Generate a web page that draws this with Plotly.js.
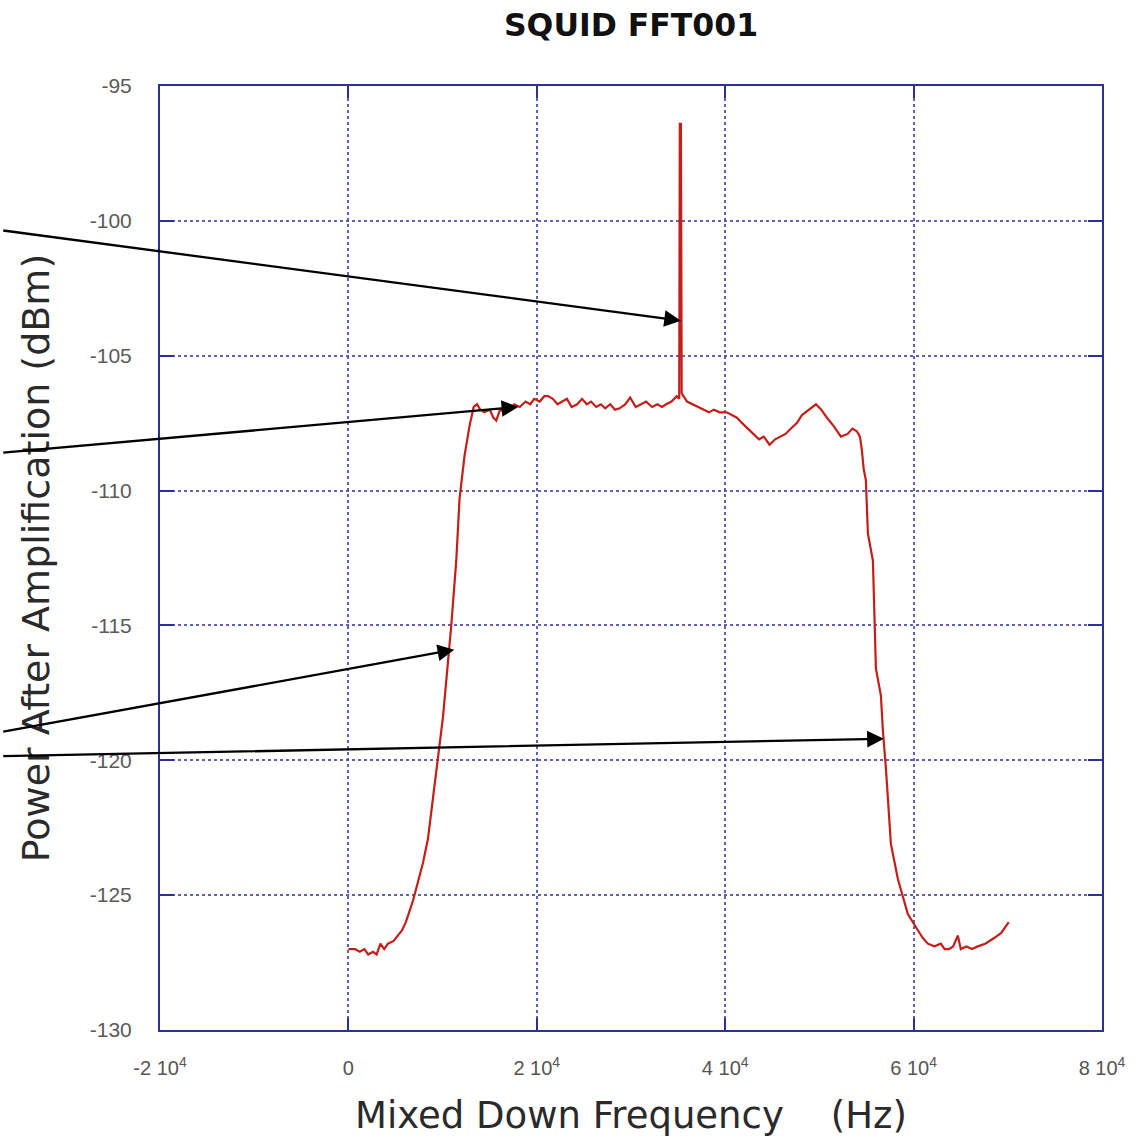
<!DOCTYPE html>
<html>
<head>
<meta charset="utf-8">
<script src="https://cdn.plot.ly/plotly-3.0.1.min.js"></script>
<style>html,body{margin:0;padding:0;background:#fff;}#chart{width:1138px;height:1141px;}</style>
</head>
<body>
<div id="chart"></div>
<script>
// Mixed down frequency (Hz)
const freq = [
  0, 700, 1200, 1700, 2100, 2600, 3000, 3400, 3800, 4200, 4800, 5300, 5700, 6100, 6500,
  6860, 7390, 7920, 8450, 8980, 9510, 10040, 10570, 10920, 11450, 11800, 12330, 12860, 13300,
  13650, 14000, 14420, 15000, 15400, 15700, 16100, 16600, 17070, 17600, 18200, 18800, 19300,
  19730, 20300, 20800, 21210, 21700, 22200, 22700, 23200, 23700, 24290, 24800, 25300, 25770,
  26300, 26800, 27260, 27800, 28300, 28800, 29400, 29910, 30500, 31070, 31600, 32240, 32800,
  33300, 33720, 34300, 34860, 35120, 35180, 35300, 35380, 35950, 36500, 37120, 37700, 38280,
  38800, 39410, 40160, 40700, 41250, 41800, 42420, 43000, 43590, 44100, 44710, 45300, 45810,
  46400, 46980, 47600, 48150, 48900, 49630, 50200, 50800, 51500, 52280, 53000, 53500, 53980,
  54300, 54510, 54700, 54930, 55150, 55680, 55790, 56000, 56530, 56740, 57060, 57270, 57590,
  58330, 58860, 59390, 60450, 61000, 61510, 62200, 62890, 63300, 63740, 64200, 64690, 65010,
  65600, 66200, 66810, 67600, 68510, 69300, 70100
];
// Power after amplification (dBm)
const power = [
  -127.0, -127.0, -127.1, -127.0, -127.2, -127.1, -127.2, -126.8, -127.0, -126.8, -126.7, -126.5, -126.3, -126.0, -125.6,
  -125.2, -124.5, -123.8, -122.9, -121.5, -119.9, -118.4, -116.4, -115.0, -112.6, -110.3, -108.7, -107.6, -106.9,
  -106.8, -107.0, -107.1, -107.0, -107.3, -107.4, -107.0, -107.1, -107.0, -106.8, -106.9, -106.7, -106.8,
  -106.6, -106.7, -106.5, -106.5, -106.6, -106.8, -106.7, -106.6, -106.9, -106.8, -106.6, -106.8, -106.7,
  -106.9, -106.8, -106.95, -106.8, -107.0, -106.95, -106.8, -106.55, -106.9, -106.8, -106.7, -106.9, -106.8,
  -106.9, -106.8, -106.7, -106.5, -106.6, -96.4, -96.4, -106.4, -106.7, -106.8, -106.9, -107.0, -107.1,
  -107.0, -107.1, -107.1, -107.2, -107.3, -107.5, -107.7, -107.9, -108.1, -108.0, -108.3, -108.1, -108.0,
  -107.9, -107.7, -107.5, -107.2, -107.0, -106.8, -107.0, -107.3, -107.6, -108.0, -107.9, -107.7, -107.8,
  -108.0, -108.5, -109.2, -109.6, -111.6, -112.6, -114.4, -116.6, -117.6, -118.9, -120.3, -121.6, -123.1,
  -124.4, -125.1, -125.7, -126.3, -126.6, -126.8, -126.9, -126.8, -127.0, -127.0, -126.9, -126.5, -127.0,
  -126.9, -127.0, -126.9, -126.8, -126.6, -126.4, -126.0
];
const xTickVals = [-20000, 0, 20000, 40000, 60000, 80000];
const xTickText = ['-2 10<sup>4</sup>', '0', '2 10<sup>4</sup>', '4 10<sup>4</sup>', '6 10<sup>4</sup>', '8 10<sup>4</sup>'];
const yTickVals = [-130, -125, -120, -115, -110, -105, -100, -95];
const yTickText = ['-130', '-125', '-120', '-115', '-110', '-105', '-100', '-95'];

// Arrow annotations: tip (x, y) and tail (ax, ay) in data units
const arrowTipX = [35300, 18030, 11240, 56840];
const arrowTipY = [-103.7, -106.9, -115.9, -119.2];
const arrowTailX = [-36800, -36800, -36800, -36800];
const arrowTailY = [-100.35, -108.6, -118.95, -119.85];

const navy = '#2e2f96';
const gridCol = 'rgba(70,70,160,0.85)';

const trace = {
  x: freq, y: power, type: 'scatter', mode: 'lines',
  line: {color: '#c41e1a', width: 2.2},
  hoverinfo: 'x+y'
};

const annotations = arrowTipX.map((tx, i) => ({
  x: tx, y: arrowTipY[i], xref: 'x', yref: 'y',
  ax: arrowTailX[i], ay: arrowTailY[i], axref: 'x', ayref: 'y',
  text: '', showarrow: true, arrowhead: 2, arrowsize: 1.45, arrowwidth: 2.3,
  arrowcolor: '#000', standoff: 0, startstandoff: 0
}));

const layout = {
  width: 1138, height: 1141,
  margin: {l: 160, r: 36, t: 86, b: 111},
  paper_bgcolor: '#fff', plot_bgcolor: '#fff',
  showlegend: false,
  title: {
    text: '<b>SQUID FFT001</b>',
    font: {family: 'DejaVu Sans, Verdana, sans-serif', size: 31.5, color: '#111'},
    x: 0.5, xref: 'paper', xanchor: 'center',
    y: 1 - 25/1141, yref: 'container', yanchor: 'middle'
  },
  xaxis: {
    range: [-20000, 80000], tickvals: xTickVals, ticktext: xTickText,
    showline: true, linecolor: navy, linewidth: 2, mirror: 'ticks',
    ticks: 'inside', ticklen: 12, tickwidth: 2, tickcolor: navy,
    showgrid: true, gridcolor: gridCol, gridwidth: 2, griddash: 'dot',
    zeroline: false, ticklabelstandoff: 19,
    tickfont: {family: 'Liberation Sans, Arial, sans-serif', size: 20, color: '#555'},
    title: {
      text: 'Mixed Down Frequency\u00a0\u00a0\u00a0\u00a0(Hz)',
      font: {family: 'DejaVu Sans, Verdana, sans-serif', size: 37, color: '#2a2a2a'},
      standoff: 24
    },
    automargin: false
  },
  yaxis: {
    range: [-130, -95], tickvals: yTickVals, ticktext: yTickText,
    showline: true, linecolor: navy, linewidth: 2, mirror: 'ticks',
    ticks: 'inside', ticklen: 14, tickwidth: 2, tickcolor: navy,
    showgrid: true, gridcolor: gridCol, gridwidth: 2, griddash: 'dot',
    zeroline: false, ticklabelstandoff: 22,
    tickfont: {family: 'Liberation Sans, Arial, sans-serif', size: 21, color: '#5a5a5a'},
    title: {
      text: 'Power After Amplification (dBm)',
      font: {family: 'DejaVu Sans, Verdana, sans-serif', size: 38, color: '#2a2a2a'},
      standoff: 28
    },
    automargin: false
  },
  annotations: annotations
};

Plotly.newPlot('chart', [trace], layout, {displayModeBar: false, staticPlot: true});
</script>
</body>
</html>
